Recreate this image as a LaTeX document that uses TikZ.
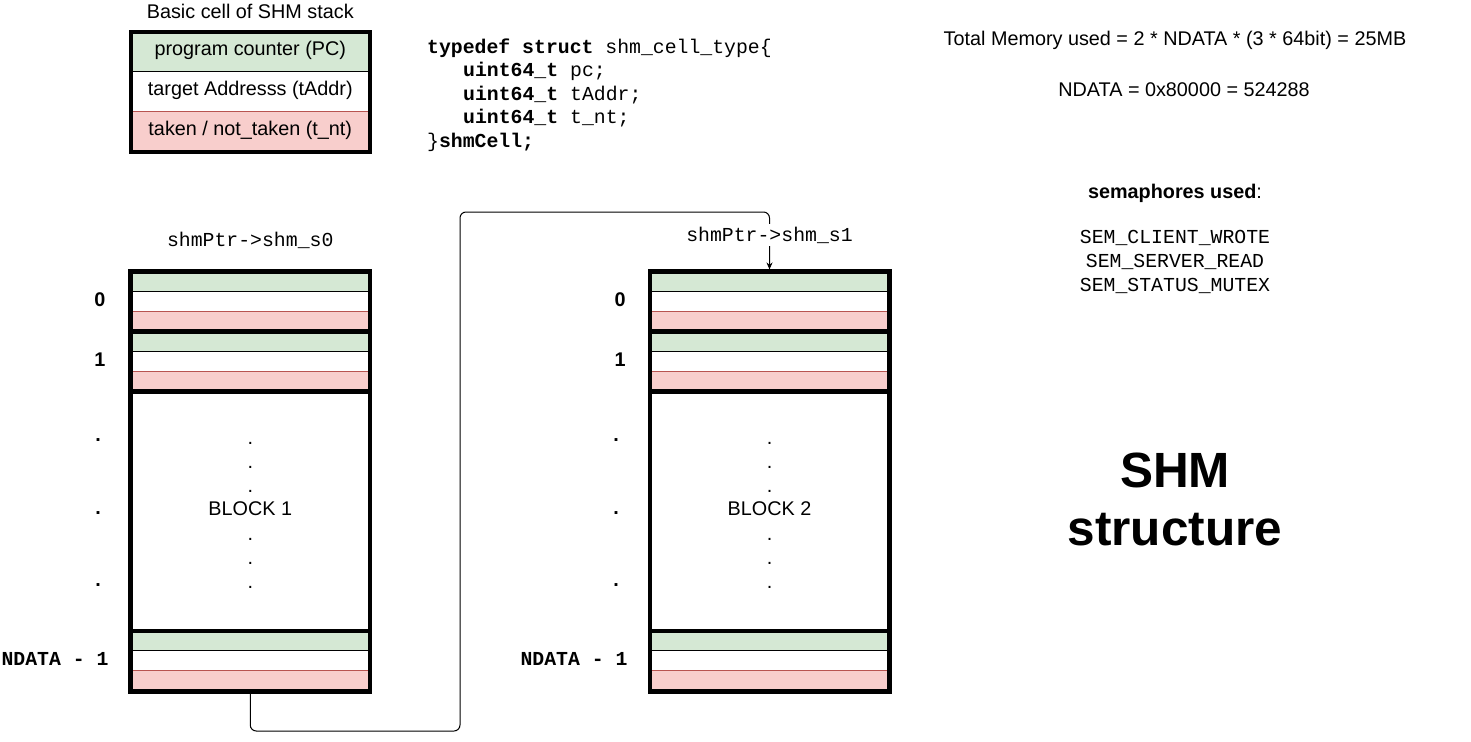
\documentclass[tikz,border=0pt]{standalone}
\usepackage{fontspec}
\setmainfont{Liberation Sans}
\setmonofont{Liberation Mono}
\usepackage{xcolor}
\usetikzlibrary{arrows.meta}
\definecolor{cellgreen}{HTML}{D5E8D4}
\definecolor{cellpink}{HTML}{F8CECC}
\definecolor{cellred}{HTML}{B85450}

\begin{document}
\begin{tikzpicture}[x=1pt, y=-1pt,
        % Define styles for consistency
        txt/.style={
            font=\fontsize{19.8}{24}\selectfont,
            inner sep=0pt
        },
        code/.style={
            font=\fontsize{19.8}{24}\selectfont\ttfamily,
            inner sep=0pt
        },
        idx/.style={
            font=\fontsize{19.8}{24}\selectfont\bfseries,
            inner sep=0pt
        },
        block/.style={
            rectangle,
            draw=black,
            line width=4.5pt,
            minimum width=239.5pt,
            minimum height=419.6pt,
            inner sep=0pt
        },
        cellbox/.style={
            rectangle,
            draw=black,
            line width=4.5pt,
            minimum width=239pt,
            minimum height=120pt,
            inner sep=0pt
        },
        divider/.style={
            draw,
            line width=4.5pt
        },
        sepline/.style={
            draw=black,
            line width=0.8pt
        },
        redline/.style={
            draw=cellred,
            line width=0.8pt
        },
        link/.style={
            draw,
            line width=1pt,
            rounded corners=6pt,
            -{Stealth[length=7pt, width=6pt]}
        }
    ]

    \useasboundingbox (0,0) rectangle (1471,741);

    % --- BASIC CELL ---

    \node[txt] (celltitle) at (250.3,11) {Basic cell of SHM stack};
    \fill[cellgreen] (130.8,31.8) rectangle (369.8,71.8);
    \fill[cellpink] (130.8,111.8) rectangle (369.8,151.8);
    \draw[sepline] (130.8,71.8) -- (369.8,71.8);
    \draw[redline] (130.8,111.8) -- (369.8,111.8);
    \node[cellbox] (cell) at (250.3,91.8) {};
    \node[txt] (pc) at (250.3,50.5) {program counter (PC)};
    \node[txt] (taddr) at (250.3,90.5) {target Addresss (tAddr)};
    \node[txt] (tnt) at (250.3,130.5) {taken / not\_taken (t\_nt)};

    % Struct definition
    \node[code, anchor=base west] (code1) at (427,53.5) {\textbf{typedef struct} shm\_cell\_type\{};
    \node[code, anchor=base west] (code2) at (463,77) {\textbf{uint64\_t} pc;};
    \node[code, anchor=base west] (code3) at (463,100.5) {\textbf{uint64\_t} tAddr;};
    \node[code, anchor=base west] (code4) at (463,124) {\textbf{uint64\_t} t\_nt;};
    \node[code, anchor=base west] (code5) at (427,147.5) {\}\textbf{shmCell;}};

    % --- BLOCKS ---

    % Cell fills (three rows per cell)
    \foreach \xl/\xr in {130.5/370, 650/889} {
        \foreach \t in {271.7, 331.3, 630.8} {
            \fill[cellgreen] (\xl,\t) rectangle (\xr,\t+20);
            \fill[cellpink] (\xl,\t+40) rectangle (\xr,\t+60);
            \draw[sepline] (\xl,\t+20) -- (\xr,\t+20);
            \draw[redline] (\xl,\t+40) -- (\xr,\t+40);
        }
    }

    \node[block] (blk1) at (250.25,481.5) {};
    \node[block] (blk2) at (769.5,481.5) {};

    % Thick cell borders
    \foreach \xl/\xr in {130.5/370, 650/889} {
        \foreach \t in {331.3, 391.7, 630.8} {
            \draw[divider] (\xl,\t) -- (\xr,\t);
        }
    }

    % Block contents
    \node[txt] (blk1txt) at (250.25,509) {BLOCK 1};
    \node[txt] (blk2txt) at (769.5,509) {BLOCK 2};
    \foreach \b in {444,468,492,540,564,588} {
        \node[txt, anchor=base] (dotA\b) at (250.25,\b) {.};
        \node[txt, anchor=base] (dotB\b) at (769.5,\b) {.};
    }

    % Indices
    \node[idx] (idxA0) at (100,300) {0};
    \node[idx] (idxA1) at (100,360) {1};
    \node[idx] (idxB0) at (620,300) {0};
    \node[idx] (idxB1) at (620,360) {1};
    \foreach \b in {441.5,514.5,586.5} {
        \node[idx, anchor=base] (idxAdot\b) at (98,\b) {.};
        \node[idx, anchor=base] (idxBdot\b) at (616,\b) {.};
    }
    \node[code, font=\fontsize{19.8}{24}\selectfont\ttfamily\bfseries] (lastA) at (55,659) {NDATA - 1};
    \node[code, font=\fontsize{19.8}{24}\selectfont\ttfamily\bfseries] (lastB) at (574,659) {NDATA - 1};

    % Pointers
    \node[code] (s0) at (250.25,240) {shmPtr->shm\_s0};
    \coordinate (turnL) at (460,731);
    \coordinate (turnT) at (460,212);
    \draw[link] (blk1.south) |- (turnL) -- (turnT) -| (blk2.north);
    \node[code, fill=white, inner sep=3pt] (s1) at (769.5,235) {shmPtr->shm\_s1};

    % --- NOTES ---

    \node[txt] (mem) at (1175,40) {Total Memory used = 2 * NDATA * (3 * 64bit) = 25MB};
    \node[txt] (ndata) at (1184,90) {NDATA = 0x80000 = 524288};
    \node[txt] (semtitle) at (1175,193) {\textbf{semaphores used}:};
    \node[code] (sem1) at (1175,238) {SEM\_CLIENT\_WROTE};
    \node[code] (sem2) at (1175,262) {SEM\_SERVER\_READ};
    \node[code] (sem3) at (1175,286) {SEM\_STATUS\_MUTEX};

    \node[txt, font=\fontsize{49.5}{60}\selectfont\bfseries] (title1) at (1175,470) {SHM};
    \node[txt, font=\fontsize{49.5}{60}\selectfont\bfseries] (title2) at (1175,530) {structure};

\end{tikzpicture}
\end{document}
